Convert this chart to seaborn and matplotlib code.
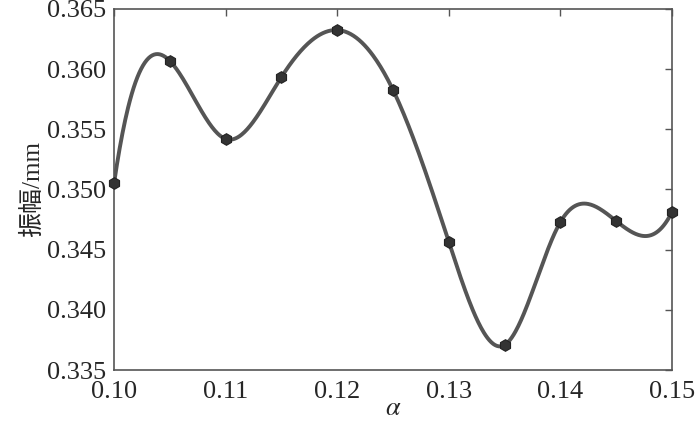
import numpy as np
import pandas as pd
import matplotlib
matplotlib.use('Agg')
import matplotlib.pyplot as plt
import seaborn as sns

# data
alpha = [0.100, 0.105, 0.110, 0.115, 0.120, 0.125, 0.130, 0.135, 0.140, 0.145, 0.150]
amplitude = [0.35054, 0.36068, 0.35420, 0.35935, 0.36325, 0.35827,
             0.34564, 0.33708, 0.34730, 0.34738, 0.34813]
x_ticks = [0.10, 0.11, 0.12, 0.13, 0.14, 0.15]
y_ticks = [0.335, 0.340, 0.345, 0.350, 0.355, 0.360, 0.365]


def notaknot_spline(x, y, xs):
    # cubic spline with not-a-knot ends (like MATLAB spline)
    x = np.asarray(x, float)
    y = np.asarray(y, float)
    n = len(x)
    h = np.diff(x)
    A = np.zeros((n, n))
    b = np.zeros(n)
    for i in range(1, n - 1):
        A[i, i - 1] = h[i - 1]
        A[i, i] = 2 * (h[i - 1] + h[i])
        A[i, i + 1] = h[i]
        b[i] = 6 * ((y[i + 1] - y[i]) / h[i] - (y[i] - y[i - 1]) / h[i - 1])
    A[0, 0], A[0, 1], A[0, 2] = h[1], -(h[0] + h[1]), h[0]
    A[-1, -3], A[-1, -2], A[-1, -1] = h[-1], -(h[-2] + h[-1]), h[-2]
    M = np.linalg.solve(A, b)
    idx = np.clip(np.searchsorted(x, xs) - 1, 0, n - 2)
    x0, x1 = x[idx], x[idx + 1]
    hh = x1 - x0
    t0, t1 = x1 - xs, xs - x0
    return (M[idx] * t0 ** 3 / (6 * hh) + M[idx + 1] * t1 ** 3 / (6 * hh)
            + (y[idx] / hh - M[idx] * hh / 6) * t0
            + (y[idx + 1] / hh - M[idx + 1] * hh / 6) * t1)


xs = np.linspace(alpha[0], alpha[-1], 600)
curve = pd.DataFrame({'alpha': xs, 'amp': notaknot_spline(alpha, amplitude, xs)})
pts = pd.DataFrame({'alpha': alpha, 'amp': amplitude})

sns.set_style('white')
plt.rcParams['font.family'] = ['Liberation Serif', 'Noto Sans CJK SC']
plt.rcParams['mathtext.fontset'] = 'stix'

fig = plt.figure(figsize=(7, 4.28), dpi=100)
ax = fig.add_axes([0.163, 0.1355, 0.797, 0.8435])

sns.lineplot(data=curve, x='alpha', y='amp', ax=ax, color='#555555', linewidth=2.8)
sns.scatterplot(data=pts, x='alpha', y='amp', ax=ax, color='#333333', s=70,
                marker='h', edgecolor='#222222', linewidth=0.8, zorder=3,
                clip_on=False)

ax.set_xlim(0.10, 0.15)
ax.set_ylim(0.335, 0.365)
ax.set_xticks(x_ticks)
ax.set_yticks(y_ticks)
ax.set_xticklabels([f'{v:.2f}' for v in x_ticks])
ax.set_yticklabels([f'{v:.3f}' for v in y_ticks])
ax.tick_params(direction='in', length=5, width=1, color='#555555',
               top=True, right=True, labelsize=19)
ax.tick_params(axis='y', pad=6)
ax.tick_params(axis='x', pad=8)
for s in ax.spines.values():
    s.set_color('#555555')
    s.set_linewidth(1.2)
ax.set_xlabel(r'$\alpha$', fontsize=19, labelpad=-4)
ax.set_ylabel('振幅/mm', fontsize=18, labelpad=2)

fig.savefig('out.png', dpi=100)
